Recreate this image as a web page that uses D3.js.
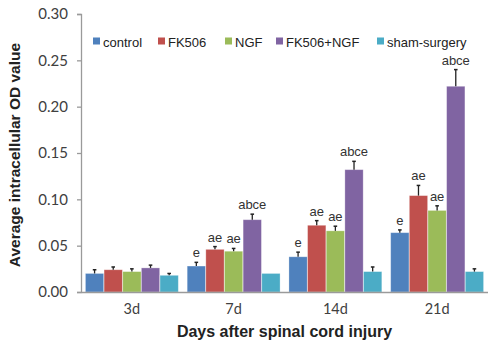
<!DOCTYPE html>
<html>
<head>
<meta charset="utf-8">
<script src="https://cdn.jsdelivr.net/npm/d3@7"></script>
<style>
  body { margin: 0; background: #fff; }
  svg { display: block; }
</style>
</head>
<body>
<div id="chart"></div>
<script>
// Chart data
const days = ['3d', '7d', '14d', '21d'];
const groups = ['control', 'FK506', 'NGF', 'FK506+NGF', 'sham-surgery'];
const groupColors = ['#4F81BD', '#C0504D', '#9BBB59', '#8064A2', '#4BACC6'];

// mean values per day, one array per group
const control = [0.020, 0.028, 0.038, 0.064];
const fk506 = [0.024, 0.046, 0.072, 0.104];
const ngf = [0.022, 0.044, 0.066, 0.088];
const combo = [0.026, 0.078, 0.132, 0.222];
const sham = [0.018, 0.020, 0.022, 0.022];

// upper error (SD) per day
const controlErr = [0.004, 0.004, 0.005, 0.003];
const fk506Err = [0.003, 0.003, 0.005, 0.011];
const ngfErr = [0.003, 0.003, 0.005, 0.005];
const comboErr = [0.003, 0.006, 0.009, 0.018];
const shamErr = [0.002, 0.000, 0.005, 0.003];

// significance letters per day
const controlSig = ['', 'e', 'e', 'e'];
const fk506Sig = ['', 'ae', 'ae', 'ae'];
const ngfSig = ['', 'ae', 'ae', 'ae'];
const comboSig = ['', 'abce', 'abce', 'abce'];
const shamSig = ['', '', '', ''];

const yTicks = [0, 0.05, 0.10, 0.15, 0.20, 0.25, 0.30];

const series = [control, fk506, ngf, combo, sham];
const errs = [controlErr, fk506Err, ngfErr, comboErr, shamErr];
const sigs = [controlSig, fk506Sig, ngfSig, comboSig, shamSig];

const W = 488, H = 346;
const margin = { top: 14, right: 0, bottom: 54, left: 81 };
const width = W - margin.left - margin.right;
const height = H - margin.top - margin.bottom;

const svg = d3.select('#chart').append('svg')
  .attr('width', W)
  .attr('height', H);

const g = svg.append('g')
  .attr('transform', `translate(${margin.left},${margin.top})`);

const x0 = d3.scaleBand()
  .domain(days)
  .range([0, width])
  .paddingInner(0.08)
  .paddingOuter(0.04);

const x1 = d3.scaleBand()
  .domain(groups)
  .range([0, x0.bandwidth()])
  .padding(0.02);

const y = d3.scaleLinear()
  .domain([0, 0.30])
  .range([height, 0]);

// flatten into records for drawing
const records = [];
days.forEach((d, i) => {
  groups.forEach((grp, j) => {
    records.push({ day: d, group: grp, color: groupColors[j],
      value: series[j][i], err: errs[j][i], sig: sigs[j][i] });
  });
});

// Y axis
const yAxis = g.append('g')
  .call(d3.axisLeft(y).tickValues(yTicks).tickSize(4).tickPadding(9).tickFormat(d3.format('.2f')));
yAxis.select('.domain').attr('stroke', '#9a9a9a').attr('stroke-width', 1.3);
yAxis.selectAll('.tick line').attr('stroke', '#9a9a9a').attr('stroke-width', 1.3);
yAxis.selectAll('.tick text')
  .style('font-family', 'Lato, "Open Sans", sans-serif')
  .style('font-size', '15px')
  .style('fill', '#404040');

// Bars
const dayG = g.selectAll('.day')
  .data(days)
  .enter().append('g')
  .attr('transform', d => `translate(${x0(d)},0)`);

dayG.selectAll('rect')
  .data(d => records.filter(r => r.day === d))
  .enter().append('rect')
  .attr('x', r => x1(r.group))
  .attr('y', r => y(r.value))
  .attr('width', x1.bandwidth())
  .attr('height', r => height - y(r.value))
  .attr('fill', r => r.color)
  .attr('stroke', '#ffffff')
  .attr('stroke-opacity', 0.35)
  .attr('stroke-width', 0.8);

// Error whiskers (upper only)
dayG.selectAll('.err')
  .data(d => records.filter(r => r.day === d && r.err > 0))
  .enter().append('g')
  .attr('class', 'err')
  .each(function (r) {
    const cx = x1(r.group) + x1.bandwidth() / 2;
    const sel = d3.select(this);
    sel.append('line')
      .attr('x1', cx).attr('x2', cx)
      .attr('y1', y(r.value)).attr('y2', y(r.value + r.err))
      .attr('stroke', '#222').attr('stroke-width', 1.3);
    sel.append('line')
      .attr('x1', cx - 1.8).attr('x2', cx + 1.8)
      .attr('y1', y(r.value + r.err)).attr('y2', y(r.value + r.err))
      .attr('stroke', '#222').attr('stroke-width', 1.5);
  });

// Significance letters
dayG.selectAll('.sig')
  .data(d => records.filter(r => r.day === d && r.sig))
  .enter().append('text')
  .attr('class', 'sig')
  .attr('x', r => x1(r.group) + x1.bandwidth() / 2)
  .attr('y', r => y(r.value + r.err) - 5)
  .attr('text-anchor', 'middle')
  .style('font-family', 'Liberation Sans, Arial, sans-serif')
  .style('font-size', '13px')
  .style('fill', '#333')
  .text(r => r.sig);

// X axis
const xAxis = g.append('g')
  .attr('transform', `translate(0,${height})`)
  .call(d3.axisBottom(x0).tickSize(0).tickPadding(12));
xAxis.select('.domain').attr('stroke', '#9a9a9a').attr('stroke-width', 1.3);
xAxis.selectAll('.tick text')
  .style('font-family', 'Lato, "Open Sans", sans-serif')
  .style('font-size', '14.5px')
  .style('fill', '#404040');

// Axis titles
svg.append('text')
  .attr('transform', `translate(20,${margin.top + 141}) rotate(-90)`)
  .attr('text-anchor', 'middle')
  .style('font-family', 'Liberation Sans, Arial, sans-serif')
  .style('font-weight', 'bold')
  .style('font-size', '15.5px')
  .style('fill', '#222')
  .text('Average intracellular OD value');

svg.append('text')
  .attr('x', margin.left + width / 2)
  .attr('y', 337)
  .attr('text-anchor', 'middle')
  .style('font-family', 'Liberation Sans, Arial, sans-serif')
  .style('font-weight', 'bold')
  .style('font-size', '16px')
  .style('fill', '#222')
  .text('Days after spinal cord injury');

// Legend
const legendX = [93, 158, 225, 276, 377];
const legend = svg.append('g');
groups.forEach((grp, j) => {
  const lg = legend.append('g').attr('transform', `translate(${legendX[j]},42)`);
  lg.append('rect')
    .attr('x', 0).attr('y', -4.5)
    .attr('width', 7).attr('height', 7)
    .attr('fill', groupColors[j]);
  lg.append('text')
    .attr('x', 10).attr('y', 4.5)
    .style('font-family', 'Liberation Sans, Arial, sans-serif')
    .style('font-size', '13px')
    .style('fill', '#222')
    .text(grp);
});
</script>
</body>
</html>
